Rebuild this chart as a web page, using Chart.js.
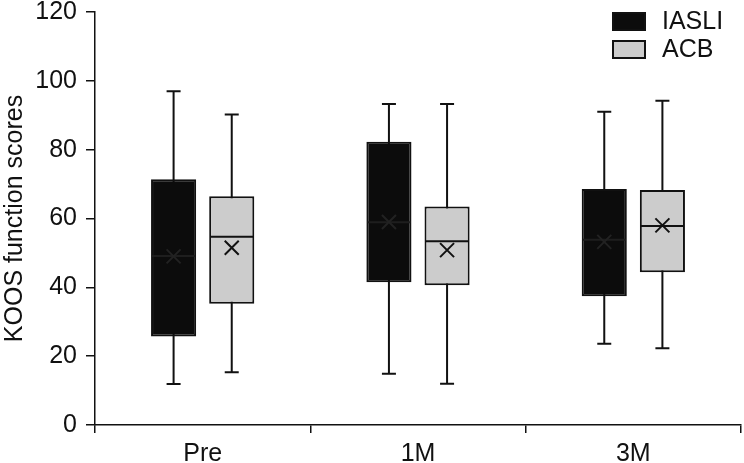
<!DOCTYPE html>
<html>
<head>
<meta charset="utf-8">
<script src="https://cdn.jsdelivr.net/npm/chart.js@4/dist/chart.umd.min.js"></script>
<style>
html,body{margin:0;padding:0;background:#fff;}
#wrap{width:744px;height:463px;position:relative;}
</style>
</head>
<body>
<div id="wrap"><canvas id="c" width="744" height="463"></canvas></div>
<script>
// ---- data ----
const categories = ['Pre', '1M', '3M'];
const seriesNames = ['IASLI', 'ACB'];

const iasliMin    = [11.9, 14.9, 23.6];
const iasliQ1     = [25.7, 41.5, 37.4];
const iasliMedian = [49.1, 58.9, 53.8];
const iasliQ3     = [71.4, 82.3, 68.6];
const iasliMax    = [97.0, 93.3, 91.0];
const iasliMean   = [49.0, 59.0, 53.2];

const acbMin    = [15.3, 12.0, 22.3];
const acbQ1     = [35.2, 40.6, 44.4];
const acbMedian = [54.7, 53.4, 57.8];
const acbQ3     = [66.5, 63.5, 68.3];
const acbMax    = [90.2, 93.3, 94.2];
const acbMean   = [51.5, 50.8, 58.0];

const yTicks = [0, 20, 40, 60, 80, 100, 120];
const yTitle = 'KOOS function scores';

// ---- build ----
const stats = [
  {min: iasliMin, q1: iasliQ1, med: iasliMedian, q3: iasliQ3, max: iasliMax, mean: iasliMean},
  {min: acbMin, q1: acbQ1, med: acbMedian, q3: acbQ3, max: acbMax, mean: acbMean}
];
const fills = ['#0c0c0c', '#cccccc'];
const FONT = "'Liberation Sans', Arial, Helvetica, sans-serif";
const FS = 25;

const boxExtras = {
  id: 'boxExtras',
  beforeDatasetsDraw(chart) {
    const ctx = chart.ctx, y = chart.scales.y;
    ctx.save();
    ctx.strokeStyle = '#111';
    ctx.lineWidth = 2;
    stats.forEach((s, d) => {
      const meta = chart.getDatasetMeta(d);
      meta.data.forEach((bar, i) => {
        const x = bar.x;
        const yMin = y.getPixelForValue(s.min[i]);
        const yMax = y.getPixelForValue(s.max[i]);
        ctx.beginPath();
        ctx.moveTo(x, yMin); ctx.lineTo(x, yMax);
        ctx.moveTo(x - 7, yMin); ctx.lineTo(x + 7, yMin);
        ctx.moveTo(x - 7, yMax); ctx.lineTo(x + 7, yMax);
        ctx.stroke();
      });
    });
    ctx.restore();
  },
  afterDatasetsDraw(chart) {
    const ctx = chart.ctx, y = chart.scales.y;
    ctx.save();
    stats.forEach((s, d) => {
      const meta = chart.getDatasetMeta(d);
      meta.data.forEach((bar, i) => {
        const x = bar.x, hw = bar.width / 2;
        const ym = y.getPixelForValue(s.med[i]);
        ctx.strokeStyle = d === 0 ? '#1e1e1e' : '#111';
        ctx.lineWidth = 2;
        ctx.beginPath();
        ctx.moveTo(x - hw + 1, ym); ctx.lineTo(x + hw - 1, ym);
        ctx.stroke();
        const yMean = y.getPixelForValue(s.mean[i]);
        const r = 7;
        ctx.strokeStyle = d === 0 ? '#222' : '#111';
        ctx.beginPath();
        ctx.moveTo(x - r, yMean - r); ctx.lineTo(x + r, yMean + r);
        ctx.moveTo(x - r, yMean + r); ctx.lineTo(x + r, yMean - r);
        ctx.stroke();
      });
    });
    ctx.restore();
  }
};

const customLegend = {
  id: 'customLegend',
  afterDraw(chart) {
    const ctx = chart.ctx;
    const x0 = 612, y0 = 12, w = 34, h = 19, gap = 28;
    ctx.save();
    chart.data.datasets.forEach((ds, d) => {
      const yy = y0 + d * gap;
      ctx.fillStyle = ds.backgroundColor;
      ctx.fillRect(x0, yy, w, h);
      ctx.strokeStyle = '#111';
      ctx.lineWidth = 2;
      ctx.strokeRect(x0 + 1, yy + 1, w - 2, h - 2);
      ctx.fillStyle = '#111';
      ctx.font = FS + 'px ' + FONT;
      ctx.textBaseline = 'middle';
      ctx.textAlign = 'left';
      ctx.fillText(ds.label, 662, yy + h / 2 + 1);
    });
    ctx.restore();
  }
};

new Chart(document.getElementById('c'), {
  type: 'bar',
  data: {
    labels: categories,
    datasets: stats.map((s, d) => ({
      label: seriesNames[d],
      data: s.q1.map((v, i) => [v, s.q3[i]]),
      backgroundColor: fills[d],
      borderColor: '#111',
      borderWidth: 2,
      borderSkipped: false,
      categoryPercentage: 0.54,
      barPercentage: 0.776
    }))
  },
  plugins: [boxExtras, customLegend],
  options: {
    responsive: false,
    animation: false,
    devicePixelRatio: 1,
    layout: {padding: {left: 0, right: 3, top: 12, bottom: 0}},
    plugins: {legend: {display: false}, tooltip: {enabled: false}},
    scales: {
      x: {
        offset: true,
        grid: {display: true, drawOnChartArea: false, drawTicks: true, offset: true, tickLength: 8, color: '#111', lineWidth: 1.5},
        border: {display: true, color: '#111', width: 1.5},
        ticks: {color: '#111', font: {family: FONT, size: FS}, padding: 6},
        afterFit(scale) { scale.height = 38; scale.paddingLeft = 0; scale.paddingRight = 0; }
      },
      y: {
        min: 0, max: 120,
        afterBuildTicks(scale) { scale.ticks = yTicks.map(v => ({value: v})); },
        grid: {display: true, drawOnChartArea: false, drawTicks: true, tickLength: 9, color: '#111', lineWidth: 1.5},
        border: {display: true, color: '#111', width: 1.5},
        ticks: {color: '#111', font: {family: FONT, size: FS, lineHeight: 1}, padding: 9},
        title: {display: true, text: yTitle, color: '#111', font: {family: FONT, size: FS}, padding: 0},
        afterFit(scale) { scale.width = 95; scale.paddingTop = 0; scale.paddingBottom = 0; }
      }
    }
  }
});
</script>
</body>
</html>
